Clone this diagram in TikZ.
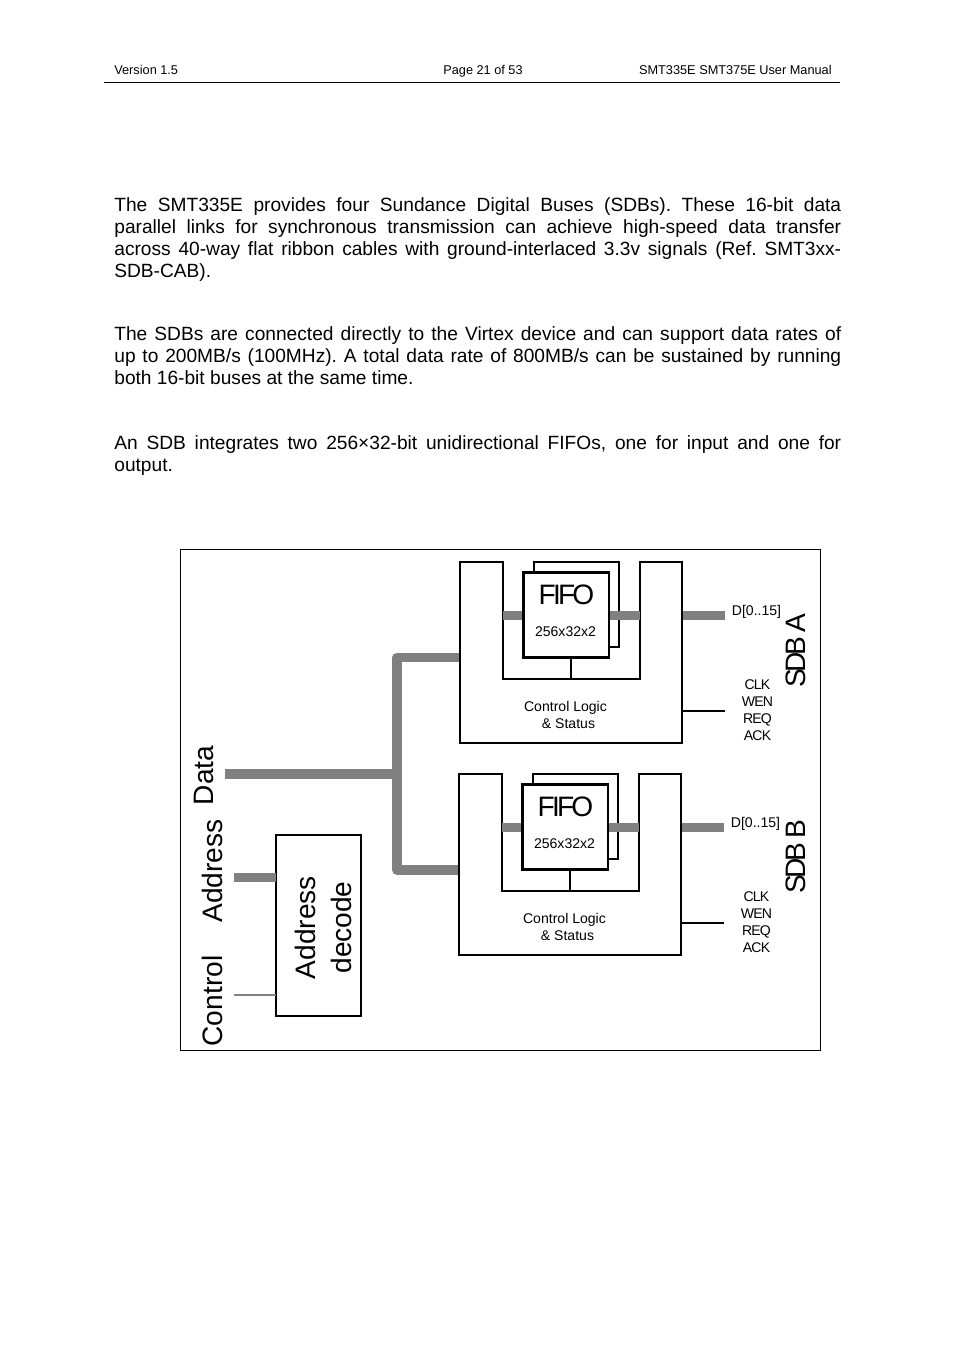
\documentclass[tikz,border=0pt]{standalone}
\usepackage{fontspec}
\setmainfont{Liberation Sans}
\frenchspacing
\tikzset{
  box/.style={draw,fill=white,line width=1.15pt,inner sep=0pt,outer sep=0pt},
  bus/.style={draw=busgray,line width=5.2pt},
  sigline/.style={draw,line width=1.1pt},
  bodytext/.style={font=\fontsize{10.9}{12.5}\selectfont,align=justify,text width=14.54cm,inner sep=0pt,anchor=north west},
  headtext/.style={font=\fontsize{7.25}{9}\selectfont,inner sep=0pt},
  small/.style={font=\fontsize{8}{9.7}\selectfont,align=center,inner sep=0pt},
  tightsmall/.style={font=\fontsize{8}{9.7}\selectfont\addfontfeature{LetterSpace=-6},align=center,inner sep=0pt},
  biglabel/.style={font=\fontsize{16}{20.5}\selectfont,align=center,inner sep=0pt,rotate=90},
  sdblabel/.style={font=\fontsize{16}{20}\selectfont\addfontfeature{LetterSpace=-12},inner sep=0pt,rotate=90},
  fifolabel/.style={font=\fontsize{16}{20}\selectfont\addfontfeature{LetterSpace=-10},inner sep=0pt}
}
\definecolor{busgray}{HTML}{808080}
\begin{document}
\begin{tikzpicture}[x=0.02cm,y=-0.02cm]
  \useasboundingbox (0,0) rectangle (954,1351);
  \fill[white] (0,0) rectangle (954,1351);
  \node[headtext,anchor=base west] (version) at (114,74.5) {Version 1.5};
  \node[headtext,anchor=base] (pageno) at (483,74.5) {Page 21 of 53};
  \node[headtext,anchor=base east] (manual) at (832,74.5) {SMT335E SMT375E User Manual};
  \coordinate (ruleleft) at (104,82);
  \coordinate (ruleright) at (840,82);
  \draw[line width=0.4pt] (ruleleft)--(ruleright);
  \node[bodytext] (parone) at (114,197.5) {The SMT335E provides four Sundance Digital Buses (SDBs). These 16-bit data\linebreak
    parallel links for synchronous transmission can achieve high-speed data transfer\linebreak
    across 40-way flat ribbon cables with ground-interlaced 3.3v signals (Ref. SMT3xx-\linebreak
    SDB-CAB).};
  \node[bodytext] (partwo) at (114,326.5) {The SDBs are connected directly to the Virtex device and can support data rates of\linebreak
    up to 200MB/s (100MHz). A total data rate of 800MB/s can be sustained by running\linebreak
    both 16-bit buses at the same time.};
  \node[bodytext] (parthree) at (114,435) {An SDB integrates two 256×32-bit unidirectional FIFOs, one for input and one for\linebreak
    output.};
  \node[draw,line width=0.35pt,minimum width=640*0.02cm,minimum height=501*0.02cm,inner sep=0pt,outer sep=0pt] (frame) at (500,799.5) {};
  \coordinate (datain) at (225,774);
  \coordinate (busjoin) at (397,774);
  \coordinate (bustop) at (397,657.5);
  \coordinate (busbot) at (397,870);
  \coordinate (sdbAin) at (460,657.5);
  \coordinate (sdbBin) at (459,870);
  \draw[bus,line join=round] (sdbAin)--(bustop)--(busbot)--(sdbBin);
  \draw[bus] (datain)--(busjoin);
  \node[box,minimum width=85*0.02cm,minimum height=181*0.02cm] (decode) at (318.5,925.5) {};
  \node[biglabel] (decodetxt) at (323,927.5) {Address\\decode};
  \coordinate (addrin) at (234,877.5);
  \coordinate (ctrlin) at (234,995);
  \draw[bus] (addrin)--(addrin-|decode.west);
  \draw[draw=busgray,line width=1.2pt] (ctrlin)--(ctrlin-|decode.west);
  \node[biglabel] (datatxt) at (204,775.5) {Data};
  \node[biglabel] (addrtxt) at (212,871) {Address};
  \node[biglabel] (ctrltxt) at (212,1001) {Control};
  \foreach \sname/\dx/\dy/\slabely in {A/0/0/650.5,B/-1/212/644.5} {
    \begin{scope}[shift={(\dx,\dy)}]
      \draw[box] (460,562)--(503,562)--(503,679)--(640,679)--(640,562)--(682,562)--(682,743)--(460,743)--cycle;
      \node[box,minimum width=85*0.02cm,minimum height=85*0.02cm] (fifoback\sname) at (576.5,604.5) {};
      \coordinate (inner\sname) at (503,615.5);
      \coordinate (outer\sname) at (640,615.5);
      \coordinate (out\sname) at (683,615.5);
      \coordinate (dataend\sname) at (725,615.5);
      \coordinate (ctlstart\sname) at (683,711);
      \coordinate (ctlend\sname) at (725,711);
      \coordinate (notch\sname) at (571,679);
      \draw[bus] (inner\sname)--(outer\sname);
      \draw[bus] (out\sname)--(dataend\sname);
      \node[box,minimum width=85*0.02cm,minimum height=85*0.02cm] (fifo\sname) at (566,615) {};
      \draw[sigline] (fifo\sname.south-|notch\sname)--(notch\sname);
      \draw[sigline] (ctlstart\sname)--(ctlend\sname);
      \node[fifolabel] (fifotxt\sname) at (566.5,595) {FIFO};
      \node[small] (sizetxt\sname) at (565.5,632) {256x32x2};
      \node[small] (logictxt\sname) at (565.5,714.5) {Control Logic\\\hspace*{0.12cm}\& Status};
      \node[small] (dtxt\sname) at (756.5,611.5) {D[0..15]};
      \node[tightsmall] (sigtxt\sname) at (757.5,710) {CLK\\WEN\\REQ\\ACK};
    \end{scope}
    \node[sdblabel] (sdbtxt\sname) at (795.5,\slabely+\dy) {SDB \sname};
  }
\end{tikzpicture}
\end{document}
